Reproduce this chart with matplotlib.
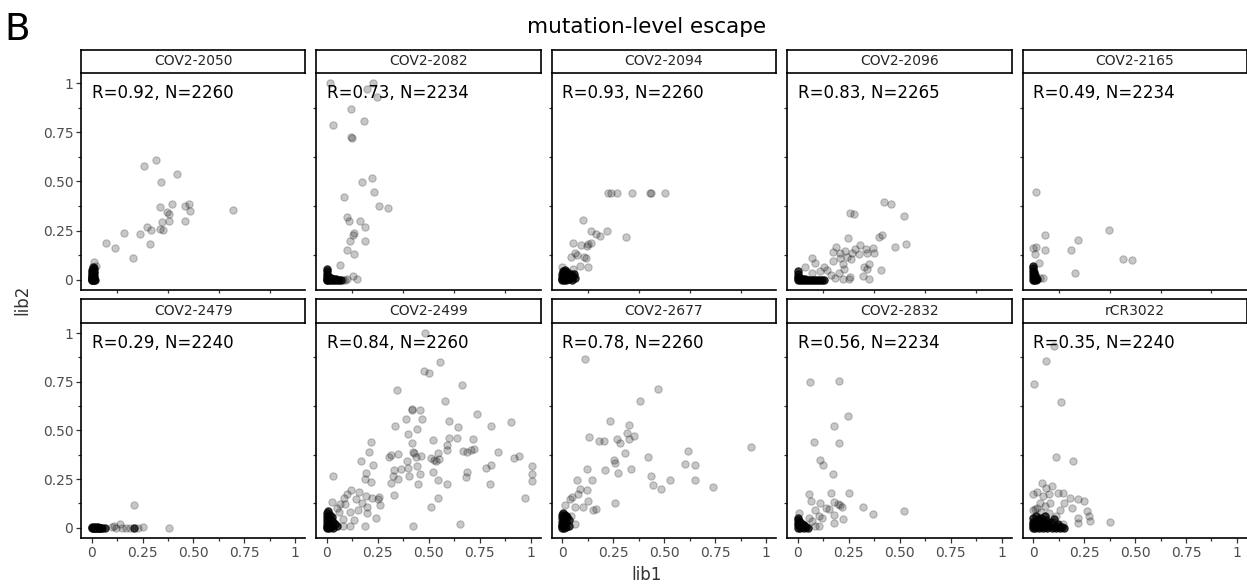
import matplotlib.pyplot as plt
from matplotlib.ticker import FixedLocator

# facet names and stats
antibodies = ['COV2-2050', 'COV2-2082', 'COV2-2094', 'COV2-2096', 'COV2-2165',
              'COV2-2479', 'COV2-2499', 'COV2-2677', 'COV2-2832', 'rCR3022']
r_values = [0.92, 0.73, 0.93, 0.83, 0.49, 0.29, 0.84, 0.78, 0.56, 0.35]
n_values = [2260, 2234, 2260, 2265, 2234, 2240, 2260, 2260, 2234, 2240]

tick_values = [0, 0.25, 0.5, 0.75, 1]
tick_labels = ['0', '0.25', '0.50', '0.75', '1']
minor_values = [0.125, 0.375, 0.625, 0.875]

# lib1 / lib2 escape per mutation
# the *_core lists are the heavily overplotted mutations near the origin
x_2050 = [0.257, 0.315, 0.42, 0.34, 0.337, 0.393, 0.371, 0.38, 0.457, 0.48, 0.483, 0.46,
          0.38, 0.345, 0.338, 0.351, 0.273, 0.291, 0.239, 0.288, 0.158, 0.07, 0.114, 0.203,
          0.696, 0.01, 0.024]
y_2050 = [0.581, 0.608, 0.54, 0.497, 0.37, 0.385, 0.343, 0.336, 0.375, 0.387, 0.35, 0.30,
          0.297, 0.295, 0.256, 0.251, 0.267, 0.251, 0.231, 0.183, 0.236, 0.188, 0.16, 0.109,
          0.355, 0.088, 0.071]
x_2050_core = [0.0, 0.0, 0.0, 0.0, 0.0, 0.005, 0.005, 0.005, 0.005, 0.01, 0.01, 0.01, 0.01,
               0.0, 0.005, 0.01, 0.015, 0.0, 0.005, 0.0, 0.008, 0.012, 0.003]
y_2050_core = [0.0, 0.01, 0.02, 0.03, 0.04, 0.0, 0.015, 0.025, 0.05, 0.0, 0.02, 0.035, 0.06,
               0.05, 0.065, 0.045, 0.0, 0.005, 0.008, 0.012, 0.003, 0.01, 0.0]

x_2082 = [0.016, 0.224, 0.197, 0.244, 0.119, 0.184, 0.029, 0.117, 0.124, 0.223, 0.174, 0.233,
          0.085, 0.255, 0.298, 0.098, 0.106, 0.161, 0.189, 0.132, 0.128, 0.114, 0.187, 0.096,
          0.132, 0.063, 0.127, 0.146, 0.08, 0.09, 0.1]
y_2082 = [1.0, 1.0, 0.97, 0.93, 0.868, 0.806, 0.788, 0.728, 0.722, 0.52, 0.497, 0.446,
          0.419, 0.377, 0.365, 0.319, 0.299, 0.3, 0.267, 0.236, 0.229, 0.195, 0.197, 0.149,
          0.132, 0.073, 0.019, 0.005, 0.0, 0.0, 0.005]
x_2082_core = [0.0, 0.0, 0.0, 0.0, 0.0, 0.0, 0.01, 0.02, 0.03, 0.04, 0.05, 0.06, 0.07,
               0.005, 0.015, 0.025, 0.035, 0.045, 0.0, 0.01, 0.02]
y_2082_core = [0.0, 0.01, 0.02, 0.03, 0.045, 0.055, 0.0, 0.0, 0.0, 0.0, 0.0, 0.0, 0.0,
               0.005, 0.005, 0.005, 0.005, 0.005, 0.0, 0.015, 0.01]

x_2094 = [0.224, 0.237, 0.267, 0.343, 0.428, 0.434, 0.506, 0.101, 0.138, 0.163, 0.185, 0.22,
          0.312, 0.054, 0.089, 0.128, 0.138, 0.12, 0.06, 0.072, 0.042, 0.107, 0.114, 0.085,
          0.127, 0.0, 0.05]
y_2094 = [0.44, 0.44, 0.44, 0.44, 0.44, 0.44, 0.44, 0.302, 0.25, 0.234, 0.221, 0.246,
          0.219, 0.185, 0.175, 0.182, 0.188, 0.171, 0.134, 0.126, 0.114, 0.114, 0.109, 0.071,
          0.063, 0.066, 0.053]
x_2094_core = [0.0, 0.0, 0.0, 0.01, 0.01, 0.01, 0.02, 0.02, 0.02, 0.03, 0.03, 0.04, 0.04,
               0.05, 0.06, 0.005, 0.015, 0.025, 0.035, 0.0, 0.01, 0.02, 0.03, 0.045, 0.055]
y_2094_core = [0.0, 0.015, 0.03, 0.0, 0.02, 0.04, 0.0, 0.015, 0.035, 0.005, 0.025, 0.01,
               0.03, 0.02, 0.01, 0.045, 0.05, 0.04, 0.02, 0.005, 0.01, 0.005, 0.012, 0.0, 0.03]

x_2096 = [0.421, 0.459, 0.257, 0.275, 0.52, 0.246, 0.397, 0.411, 0.475, 0.532, 0.306, 0.333,
          0.369, 0.187, 0.171, 0.233, 0.241, 0.263, 0.302, 0.34, 0.376, 0.072, 0.086, 0.172,
          0.208, 0.221, 0.229, 0.127, 0.145, 0.111, 0.072, 0.033, 0.164, 0.185, 0.224, 0.252,
          0.32, 0.351, 0.324, 0.341, 0.351, 0.41, 0.257, 0.2, 0.265, 0.281, 0.208]
y_2096 = [0.396, 0.385, 0.341, 0.333, 0.323, 0.212, 0.219, 0.228, 0.166, 0.183, 0.178, 0.156,
          0.161, 0.165, 0.141, 0.148, 0.117, 0.107, 0.131, 0.134, 0.134, 0.109, 0.083, 0.097,
          0.109, 0.08, 0.056, 0.066, 0.049, 0.044, 0.032, 0.063, 0.024, 0.008, 0.005, 0.005,
          0.019, 0.005, 0.066, 0.056, 0.081, 0.049, 0.015, 0.032, 0.134, 0.154, 0.134]
x_2096_core = [0.0, 0.0, 0.0, 0.0, 0.01, 0.02, 0.03, 0.04, 0.05, 0.06, 0.07, 0.08, 0.09,
               0.1, 0.11, 0.12, 0.13, 0.005, 0.015, 0.025, 0.035, 0.0, 0.01]
y_2096_core = [0.0, 0.015, 0.03, 0.045, 0.0, 0.0, 0.0, 0.0, 0.0, 0.0, 0.0, 0.0, 0.0,
               0.0, 0.0, 0.0, 0.0, 0.005, 0.005, 0.005, 0.005, 0.008, 0.01]

x_2165 = [0.016, 0.059, 0.22, 0.371, 0.06, 0.187, 0.0, 0.015, 0.007, 0.441, 0.483, 0.029,
          0.203, 0.033, 0.049]
y_2165 = [0.447, 0.229, 0.2, 0.251, 0.153, 0.149, 0.163, 0.168, 0.132, 0.105, 0.102, 0.085,
          0.032, 0.007, 0.007]
x_2165_core = [0.0, 0.0, 0.0, 0.0, 0.0, 0.005, 0.005, 0.005, 0.01, 0.01, 0.01, 0.015, 0.02,
               0.0]
y_2165_core = [0.0, 0.015, 0.03, 0.045, 0.06, 0.0, 0.02, 0.04, 0.005, 0.025, 0.01, 0.0,
               0.005, 0.07]

x_2479 = [0.21, 0.382, 0.252, 0.141, 0.109, 0.1, 0.12, 0.15, 0.17, 0.19, 0.23]
y_2479 = [0.115, 0.0, 0.005, 0.017, 0.01, 0.005, 0.0, 0.0, 0.0, 0.0, 0.0]
x_2479_core = [0.0, 0.005, 0.01, 0.015, 0.02, 0.025, 0.03, 0.035, 0.04, 0.05, 0.065,
               0.0, 0.01, 0.02, 0.03, 0.045, 0.21]
y_2479_core = [0.0, 0.0, 0.0, 0.0, 0.0, 0.0, 0.0, 0.0, 0.0, 0.0, 0.0,
               0.005, 0.005, 0.005, 0.005, 0.0, 0.0]

x_2499 = [0.48, 0.554, 0.476, 0.499, 0.665, 0.343, 0.579, 0.418, 0.415, 0.455, 0.389, 0.468,
          0.738, 0.598, 0.901, 0.333, 0.444, 0.642, 0.807, 0.4, 0.522, 0.598, 0.64, 0.719,
          0.216, 0.419, 0.59, 0.59, 0.545, 0.205, 0.423, 0.428, 0.667, 0.688, 0.706, 0.72,
          0.841, 0.35, 0.312, 0.306, 0.462, 0.392, 0.436, 0.509, 0.527, 0.533, 0.551, 0.92,
          0.941, 0.169, 0.224, 0.44, 0.805, 0.779, 1.008, 1.008, 1.008, 0.327, 0.364, 0.397,
          0.322, 0.348, 0.403, 0.455, 0.52, 0.689, 0.683, 0.19, 0.189, 0.215, 0.314, 0.447,
          0.543, 0.59, 0.798, 0.029, 0.328, 0.543, 0.257, 0.221, 0.252, 0.26, 0.19, 0.159,
          0.12, 0.085, 0.099, 0.141, 0.172, 0.198, 0.153, 0.115, 0.135, 0.195, 0.242, 0.189,
          0.424, 0.652, 0.51, 0.974, 0.059, 0.065, 0.026, 0.049, 0.081, 0.111, 0.078, 0.089]
y_2499 = [1.0, 0.851, 0.803, 0.795, 0.733, 0.706, 0.652, 0.61, 0.603, 0.606, 0.56, 0.559,
          0.584, 0.55, 0.543, 0.52, 0.506, 0.518, 0.52, 0.482, 0.448, 0.463, 0.46, 0.455,
          0.44, 0.436, 0.426, 0.397, 0.384, 0.387, 0.389, 0.384, 0.392, 0.389, 0.399, 0.404,
          0.387, 0.379, 0.372, 0.365, 0.368, 0.345, 0.362, 0.357, 0.35, 0.343, 0.353, 0.358,
          0.37, 0.343, 0.324, 0.317, 0.323, 0.307, 0.316, 0.278, 0.238, 0.297, 0.299, 0.306,
          0.265, 0.251, 0.263, 0.278, 0.284, 0.284, 0.258, 0.28, 0.251, 0.236, 0.231, 0.226,
          0.243, 0.224, 0.224, 0.263, 0.168, 0.155, 0.16, 0.155, 0.146, 0.117, 0.163, 0.182,
          0.194, 0.155, 0.171, 0.146, 0.127, 0.104, 0.093, 0.081, 0.042, 0.075, 0.048, 0.007,
          0.007, 0.019, 0.104, 0.153, 0.083, 0.121, 0.134, 0.102, 0.044, 0.007, 0.007, 0.121]
x_2499_core = [0.0, 0.0, 0.0, 0.0, 0.0, 0.0, 0.01, 0.01, 0.01, 0.02, 0.02, 0.03, 0.03, 0.04,
               0.05, 0.005, 0.015, 0.025, 0.0, 0.01, 0.02]
y_2499_core = [0.0, 0.015, 0.03, 0.045, 0.06, 0.075, 0.0, 0.02, 0.05, 0.01, 0.04, 0.0, 0.03,
               0.02, 0.01, 0.085, 0.065, 0.055, 0.005, 0.008, 0.005]

x_2677 = [0.109, 0.468, 0.379, 0.234, 0.328, 0.319, 0.351, 0.327, 0.13, 0.179, 0.203, 0.27,
          0.281, 0.927, 0.618, 0.307, 0.42, 0.254, 0.257, 0.6, 0.652, 0.12, 0.211, 0.273,
          0.338, 0.437, 0.073, 0.146, 0.528, 0.65, 0.444, 0.483, 0.738, 0.086, 0.122, 0.078,
          0.046, 0.039, 0.128, 0.26, 0.011, 0.06, 0.099, 0.148, 0.167, 0.062, 0.042]
y_2677 = [0.868, 0.713, 0.652, 0.548, 0.525, 0.484, 0.469, 0.458, 0.467, 0.443, 0.443, 0.453,
          0.436, 0.414, 0.392, 0.385, 0.365, 0.348, 0.334, 0.326, 0.324, 0.304, 0.294, 0.28,
          0.304, 0.267, 0.243, 0.246, 0.243, 0.246, 0.217, 0.199, 0.211, 0.197, 0.195, 0.173,
          0.156, 0.146, 0.136, 0.127, 0.115, 0.104, 0.105, 0.09, 0.095, 0.019, 0.061]
x_2677_core = [0.0, 0.0, 0.0, 0.0, 0.0, 0.01, 0.01, 0.01, 0.02, 0.02, 0.02, 0.03, 0.03,
               0.005, 0.015, 0.025, 0.0, 0.01]
y_2677_core = [0.0, 0.015, 0.03, 0.05, 0.065, 0.0, 0.025, 0.045, 0.005, 0.03, 0.06, 0.01,
               0.04, 0.075, 0.065, 0.055, 0.01, 0.012]

x_2832 = [0.06, 0.202, 0.244, 0.18, 0.081, 0.2, 0.107, 0.124, 0.174, 0.057, 0.161, 0.252,
          0.063, 0.109, 0.179, 0.198, 0.208, 0.216, 0.319, 0.522, 0.371, 0.086, 0.138, 0.151,
          0.104, 0.12, 0.177, 0.221, 0.179, 0.054, 0.072, 0.007, 0.102, 0.083]
y_2832 = [0.749, 0.756, 0.574, 0.521, 0.44, 0.433, 0.346, 0.324, 0.277, 0.173, 0.177, 0.178,
          0.136, 0.129, 0.134, 0.124, 0.115, 0.104, 0.105, 0.085, 0.068, 0.093, 0.1, 0.095,
          0.059, 0.048, 0.063, 0.044, 0.025, 0.048, 0.032, 0.073, 0.007, 0.007]
x_2832_core = [0.0, 0.0, 0.0, 0.0, 0.01, 0.01, 0.01, 0.02, 0.02, 0.03, 0.03, 0.04, 0.05,
               0.005, 0.015, 0.025, 0.0]
y_2832_core = [0.0, 0.012, 0.025, 0.04, 0.0, 0.015, 0.03, 0.005, 0.02, 0.0, 0.015, 0.005,
               0.0, 0.03, 0.01, 0.01, 0.05]

x_3022 = [0.104, 0.065, 0.002, 0.135, 0.111, 0.193, 0.044, 0.093, 0.062, 0.0, 0.018, 0.124,
          0.148, 0.153, 0.179, 0.221, 0.25, 0.189, 0.265, 0.276, 0.281, 0.221, 0.221, 0.376,
          0.13, 0.083, 0.049, 0.078, 0.033, 0.008, 0.098, 0.146, 0.041, 0.0, 0.02, 0.04,
          0.06, 0.08, 0.11]
y_3022 = [0.935, 0.856, 0.74, 0.647, 0.362, 0.34, 0.231, 0.214, 0.202, 0.175, 0.183, 0.18,
          0.18, 0.127, 0.151, 0.146, 0.136, 0.1, 0.085, 0.061, 0.036, 0.048, 0.022, 0.027,
          0.092, 0.129, 0.163, 0.171, 0.129, 0.095, 0.027, 0.019, 0.044, 0.09, 0.1, 0.08,
          0.11, 0.075, 0.06]
x_3022_core = [0.0, 0.0, 0.0, 0.0, 0.0, 0.01, 0.01, 0.02, 0.02, 0.03, 0.03, 0.04, 0.04,
               0.05, 0.05, 0.06, 0.06, 0.07, 0.07, 0.08, 0.09, 0.1, 0.11, 0.12, 0.13, 0.14,
               0.15, 0.005, 0.015, 0.025, 0.035, 0.045, 0.055, 0.065, 0.075, 0.085, 0.1, 0.12]
y_3022_core = [0.0, 0.01, 0.02, 0.03, 0.05, 0.0, 0.03, 0.005, 0.04, 0.0, 0.02, 0.01, 0.05,
               0.0, 0.03, 0.005, 0.06, 0.0, 0.02, 0.01, 0.0, 0.005, 0.0, 0.01, 0.0, 0.005,
               0.0, 0.015, 0.06, 0.045, 0.035, 0.025, 0.015, 0.04, 0.02, 0.03, 0.045, 0.02]

x_data = [x_2050, x_2082, x_2094, x_2096, x_2165, x_2479, x_2499, x_2677, x_2832, x_3022]
y_data = [y_2050, y_2082, y_2094, y_2096, y_2165, y_2479, y_2499, y_2677, y_2832, y_3022]
x_core = [x_2050_core, x_2082_core, x_2094_core, x_2096_core, x_2165_core,
          x_2479_core, x_2499_core, x_2677_core, x_2832_core, x_3022_core]
y_core = [y_2050_core, y_2082_core, y_2094_core, y_2096_core, y_2165_core,
          y_2479_core, y_2499_core, y_2677_core, y_2832_core, y_3022_core]

W, H = 1247, 586
fig = plt.figure(figsize=(W / 100, H / 100), dpi=100)

col_left = [81, 316.4, 551.8, 787.2, 1022.6]
panel_w = 224.5
row_top = [73, 322.7]
row_bot = [290, 538]
strip_h = 23.5
tick_grey = '#4d4d4d'

for i, name in enumerate(antibodies):
	r, c = divmod(i, 5)
	left = col_left[c]
	top = row_top[r]
	bot = row_bot[r]
	ax = fig.add_axes([left / W, 1 - bot / H, panel_w / W, (bot - top) / H])

	ax.scatter(x_data[i], y_data[i], s=28, color='black', alpha=0.22,
			   linewidths=0.8, zorder=3)
	# overplotted block near the origin: many mutations on top of each other
	ax.scatter(x_core[i], y_core[i], s=28, color='black', alpha=0.75,
			   linewidths=0.8, zorder=4)

	ax.set_xlim(-0.052, 1.05)
	ax.set_ylim(-0.053, 1.053)

	for side in ['top', 'right']:
		ax.spines[side].set_visible(False)
	for side in ['left', 'bottom']:
		ax.spines[side].set_linewidth(1.2)

	ax.xaxis.set_major_locator(FixedLocator(tick_values))
	ax.yaxis.set_major_locator(FixedLocator(tick_values))
	ax.xaxis.set_minor_locator(FixedLocator(minor_values))
	ax.yaxis.set_minor_locator(FixedLocator(minor_values))
	ax.tick_params(which='major', length=3.5, width=0.9, color='#333333',
				   labelsize=10, labelcolor=tick_grey, pad=2)
	ax.tick_params(which='minor', length=2, width=0.9, color='#333333')

	if c == 0:
		ax.set_yticklabels(tick_labels)
	else:
		ax.tick_params(axis='y', which='major', length=0, labelleft=False)
	if r == 1:
		ax.set_xticklabels(tick_labels)
	else:
		ax.tick_params(axis='x', which='major', length=0, labelbottom=False)

	ax.text(0.0, 0.95, 'R=%.2f, N=%d' % (r_values[i], n_values[i]),
			fontsize=12, ha='left', va='center', color='black', zorder=5)

	# facet strip
	sax = fig.add_axes([left / W, 1 - top / H, panel_w / W, strip_h / H])
	sax.set_xticks([])
	sax.set_yticks([])
	for sp in sax.spines.values():
		sp.set_linewidth(1.2)
	sax.text(0.5, 0.5, name, ha='center', va='center', fontsize=10, color='#262626',
			 transform=sax.transAxes)

fig.text(647 / W, 1 - 27 / H, 'mutation-level escape', ha='center', va='center', fontsize=15.5)
fig.text(4 / W, 1 - 30 / H, 'B', ha='left', va='center', fontsize=27)
fig.text(647 / W, 1 - 575 / H, 'lib1', ha='center', va='center', fontsize=12, color='#333333')
fig.text(22 / W, 1 - 300 / H, 'lib2', ha='center', va='center', fontsize=12, color='#333333',
		 rotation=90)

fig.savefig('out.png', dpi=100)
